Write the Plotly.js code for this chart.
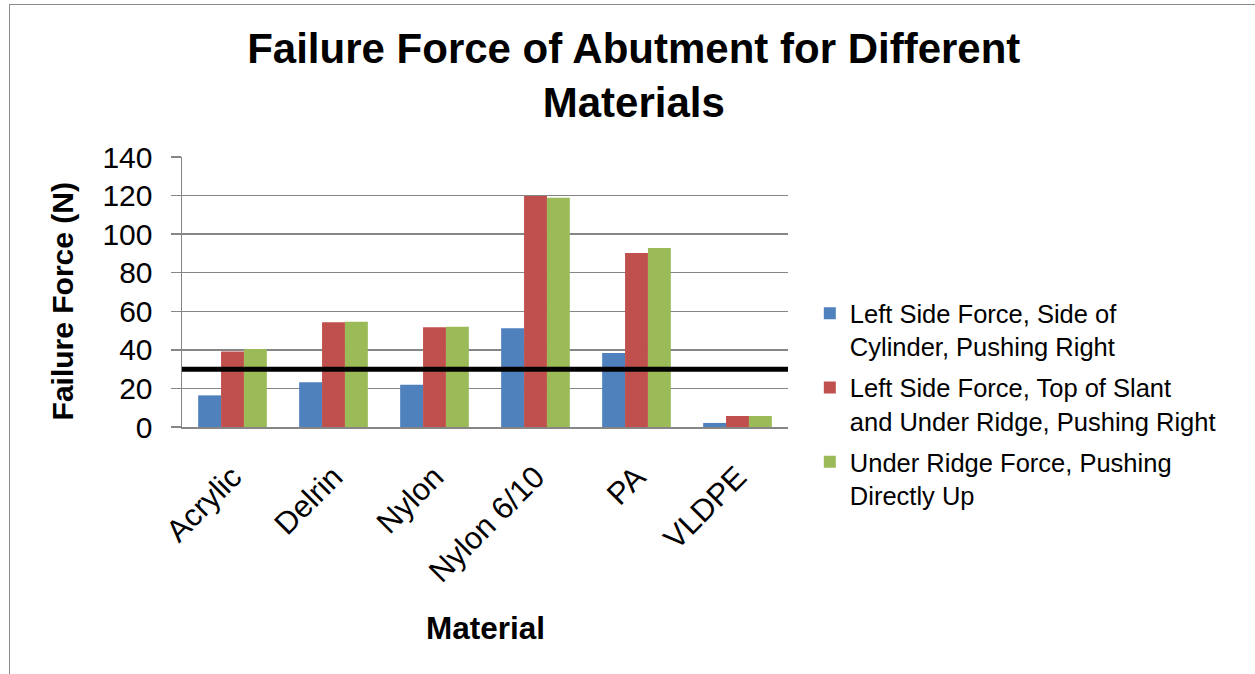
<!DOCTYPE html>
<html>
<head>
<meta charset="utf-8">
<script src="https://cdn.plot.ly/plotly-3.0.1.min.js"></script>
<style>
  html, body { margin: 0; padding: 0; background: #fff; }
  #wrap { position: relative; width: 1255px; height: 674px; overflow: hidden; }
  #chart { position: absolute; left: 0; top: 0; width: 1255px; height: 674px; }
  #frame { position: absolute; left: 9px; top: 4px; width: 1260px; height: 700px;
           border-top: 1.5px solid #8a8a8a; border-left: 1.5px solid #8a8a8a; pointer-events: none; }
</style>
</head>
<body>
<div id="wrap">
  <div id="chart"></div>
  <div id="frame"></div>
</div>
<script>
const materials = ["Acrylic", "Delrin", "Nylon", "Nylon 6/10", "PA", "VLDPE"];
const seriesNames = [
  "Left Side Force, Side of<br>Cylinder, Pushing Right",
  "Left Side Force, Top of Slant<br>and Under Ridge, Pushing Right",
  "Under Ridge Force, Pushing<br>Directly Up"
];
const sideOfCylinder = [16.4, 23.2, 21.9, 51.2, 38.4, 2.1];
const topOfSlant = [39.2, 54.3, 51.7, 119.8, 90.2, 5.7];
const underRidge = [40.4, 54.6, 52.0, 118.9, 92.8, 5.7];
const threshold = 30;
const yTicks = [0, 20, 40, 60, 80, 100, 120, 140];

const colors = ["#4F81BD", "#C0504D", "#9BBB59"];
const seriesValues = [sideOfCylinder, topOfSlant, underRidge];
const FONT = "Liberation Sans, Arial, sans-serif";

const traces = seriesValues.map((vals, i) => ({
  type: "bar",
  x: materials,
  y: vals,
  name: seriesNames[i],
  legendgroup: "g" + i,
  marker: { color: colors[i], line: { width: 0 } },
  hoverinfo: "x+y"
}));

const layout = {
  width: 1255,
  height: 674,
  paper_bgcolor: "rgba(0,0,0,0)",
  plot_bgcolor: "#ffffff",
  margin: { l: 182, r: 467, t: 157, b: 247, pad: 0 },
  font: { family: FONT, color: "#000", size: 28 },
  barmode: "group",
  bargap: 0.32,
  bargroupgap: 0,
  title: {
    text: "<b>Failure Force of Abutment for Different<br>Materials</b>",
    font: { family: FONT, size: 42, color: "#000" },
    x: 0.505, xref: "container", xanchor: "center",
    y: 0.907, yref: "container", yanchor: "middle"
  },
  xaxis: {
    type: "category",
    tickangle: -45,
    tickfont: { family: FONT, size: 31, color: "#000" },
    ticklabelstandoff: 18,
    showline: true, linecolor: "#868686", linewidth: 1.5,
    ticks: "", showgrid: false, zeroline: false
  },
  yaxis: {
    range: [0, 140],
    tickvals: yTicks,
    ticktext: yTicks.map(String),
    tickfont: { family: FONT, size: 30, color: "#000" },
    ticks: "outside", ticklen: 10, tickcolor: "#868686", tickwidth: 1.5,
    ticklabelstandoff: 12,
    showline: true, linecolor: "#868686", linewidth: 1.5,
    showgrid: true, gridcolor: "#868686", gridwidth: 1.5,
    zeroline: false
  },
  legend: {
    x: 1.036, xanchor: "left",
    y: 0.507, yanchor: "top",
    valign: "top",
    font: { family: FONT, size: 25.5, color: "#000" },
    bgcolor: "rgba(0,0,0,0)",
    tracegroupgap: 5,
    itemwidth: 30
  },
  showlegend: true,
  annotations: [
    {
      text: "<b>Failure Force (N)</b>", textangle: -90, showarrow: false,
      xref: "paper", x: (62 - 182) / 606, xanchor: "center",
      yref: "paper", y: 0.465, yanchor: "middle",
      font: { family: FONT, size: 30, color: "#000" }
    },
    {
      text: "<b>Material</b>", showarrow: false,
      xref: "paper", x: 0.5, xanchor: "center",
      yref: "paper", y: -0.744, yanchor: "middle",
      font: { family: FONT, size: 31.5, color: "#000" }
    }
  ],
  shapes: [{
    type: "line", xref: "paper", x0: 0, x1: 1, yref: "y", y0: threshold, y1: threshold,
    line: { color: "#000", width: 5 }
  }]
};

Plotly.newPlot("chart", traces, layout, { displayModeBar: false, staticPlot: true });
</script>
</body>
</html>
